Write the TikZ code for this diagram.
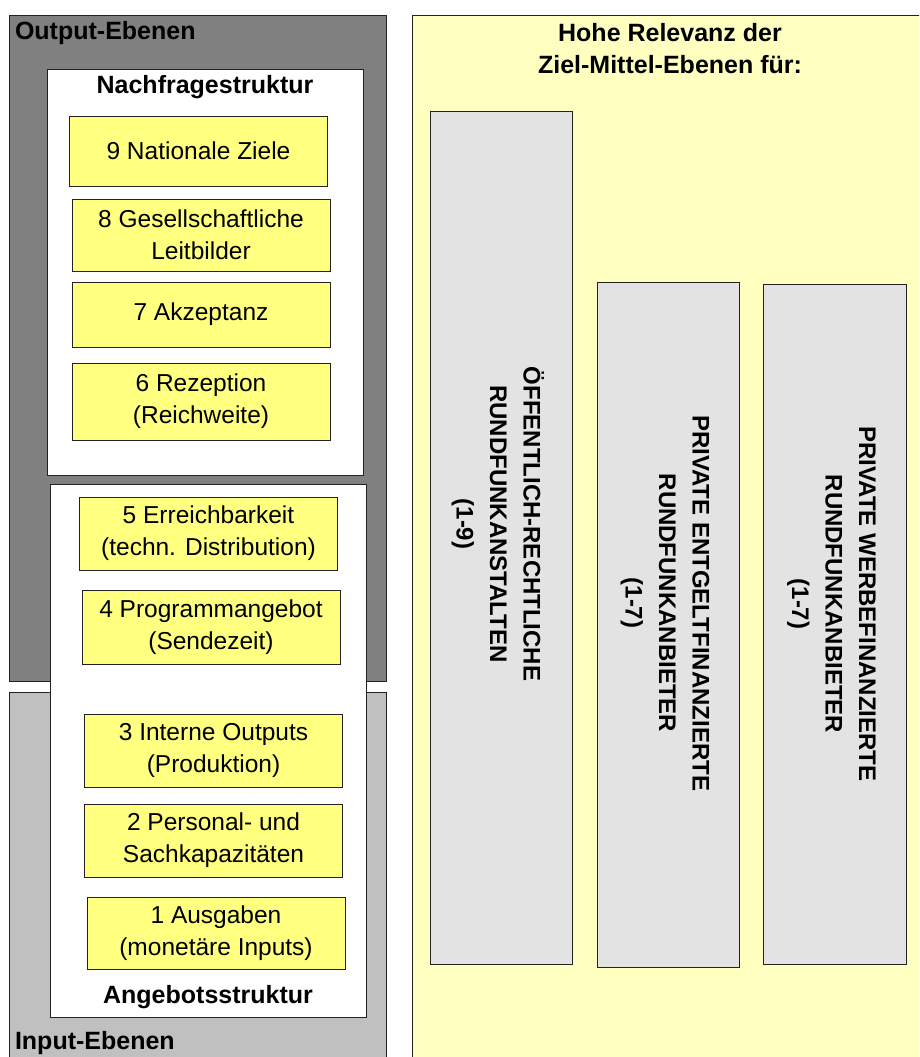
\documentclass[tikz,border=0pt]{standalone}
\usepackage{fontspec}
\setmainfont{Liberation Sans}
\definecolor{darkband}{HTML}{808080}
\definecolor{lightband}{HTML}{C0C0C0}
\definecolor{levelyellow}{HTML}{FFFF80}
\definecolor{panelyellow}{HTML}{FFFFC0}
\definecolor{bargray}{HTML}{E3E3E3}
\definecolor{edge}{HTML}{222222}
\begin{document}
\begin{tikzpicture}[x=1pt,y=-1pt,
  every node/.style={inner sep=0pt,outer sep=0pt},
  band/.style={rectangle,draw=edge,line width=1pt},
  level/.style={rectangle,draw=edge,line width=0.9pt,fill=levelyellow,
    minimum width=258pt,align=center,font=\fontsize{24.5}{32}\selectfont},
  bar/.style={rectangle,draw=edge,line width=0.9pt,fill=bargray,minimum width=142pt},
  bartext/.style={rotate=-90,align=center,font=\fontsize{24}{33.5}\selectfont\bfseries},
  heading/.style={font=\fontsize{25}{32}\selectfont\bfseries,align=center}]
\useasboundingbox (0,0) rectangle (919,1057);
\clip (0,0) rectangle (919,1057);
\fill[white] (0,0) rectangle (919,1057);

% left column: output and input bands
\node[band,fill=darkband,minimum width=377pt,minimum height=665pt] (outband) at (197.5,348.5) {};
\node[band,fill=lightband,minimum width=377pt,minimum height=408pt] (inband) at (197.5,896) {};
\node[anchor=west,heading] (outlabel) at (15,33) {Output-Ebenen};
\node[anchor=west,heading] (inlabel) at (15,1043) {Input-Ebenen};

% demand and supply structure frames
\node[band,fill=white,minimum width=316pt,minimum height=405pt] (demand) at (205,272.5) {};
\node[band,fill=white,minimum width=316pt,minimum height=533pt] (supply) at (208,750.5) {};
\node[heading] (demandlabel) at (205,87) {Nachfragestruktur};
\node[heading] (supplylabel) at (208,997) {Angebotsstruktur};

% goal-means levels
\node[level,minimum height=70pt] (l9) at (198.5,151) {9 Nationale Ziele};
\node[level,minimum height=72pt] (l8) at (201,235) {8 Gesellschaftliche\\Leitbilder};
\node[level,minimum height=65pt] (l7) at (201,314.5) {7 Akzeptanz};
\node[level,minimum height=77pt] (l6) at (201,401.5) {6 Rezeption\\(Reichweite)};
\node[level,minimum height=73pt] (l5) at (208.5,533.5) {5 Erreichbarkeit\\(techn. Distribution)};
\node[level,minimum height=74pt] (l4) at (211,627) {4 Programmangebot\\(Sendezeit)};
\node[level,minimum height=73pt] (l3) at (213.5,750.5) {3 Interne Outputs\\(Produktion)};
\node[level,minimum height=73pt] (l2) at (213.5,840.5) {2 Personal- und\\Sachkapazitäten};
\node[level,minimum height=72pt] (l1) at (216,933) {1 Ausgaben\\(monetäre Inputs)};

% right panel: relevance per broadcaster type
\node[band,fill=panelyellow,minimum width=528pt,minimum height=1084pt] (panel) at (676,558) {};
\node[heading] (paneltitle) at (670,49) {Hohe Relevanz der\\Ziel-Mittel-Ebenen für:};

\node[bar,minimum height=853pt] (b1) at (501,537.5) {};
\node[bar,minimum height=685pt] (b2) at (668,624.5) {};
\node[bar,minimum height=680pt,minimum width=143pt] (b3) at (834.5,624) {};

\node[bartext] (t1) at (498,524) {ÖFFENTLICH-RECHTLICHE\\RUNDFUNKANSTALTEN\\(1-9)};
\node[bartext] (t2) at (665,603) {PRIVATE ENTGELTFINANZIERTE\\RUNDFUNKANBIETER\\(1-7)};
\node[bartext] (t3) at (831.5,604) {PRIVATE WERBEFINANZIERTE\\RUNDFUNKANBIETER\\(1-7)};
\end{tikzpicture}
\end{document}
